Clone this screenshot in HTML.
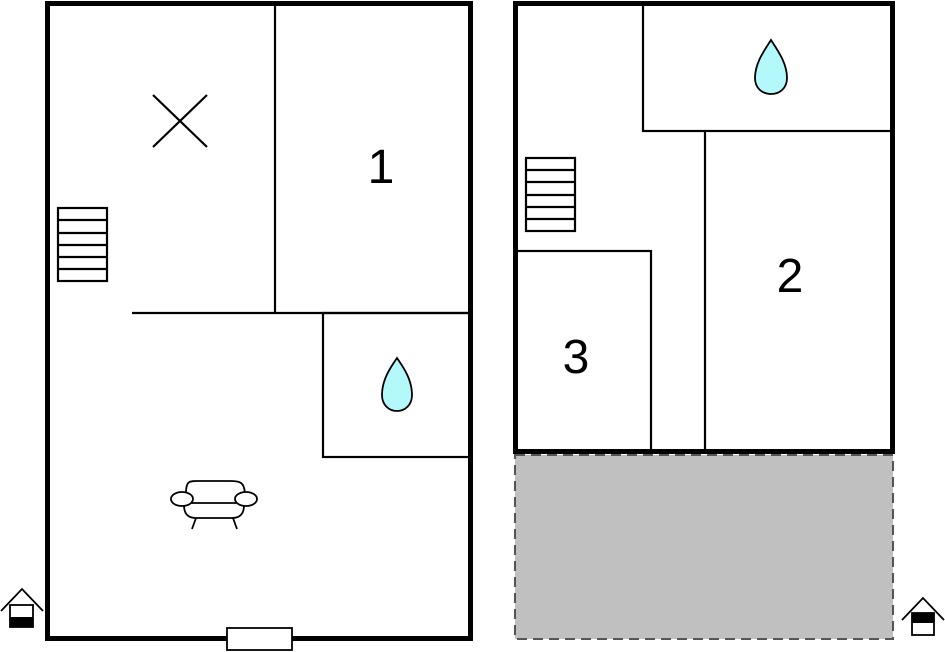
<!DOCTYPE html>
<html><head><style>body{margin:0;background:#fff}svg{display:block}</style></head><body>
<svg width="945" height="652" xmlns="http://www.w3.org/2000/svg" font-family="Liberation Sans, sans-serif">
<rect x="515" y="455" width="378" height="184" fill="#c0c0c0" stroke="#555" stroke-width="2" stroke-dasharray="10,6"/>
<g fill="none" stroke="#000">
<rect x="47.5" y="3.5" width="423" height="635" stroke-width="5"/>
<g stroke-width="2.2">
<line x1="275" y1="3" x2="275" y2="313"/>
<line x1="132" y1="313" x2="471" y2="313"/>
<rect x="323" y="313" width="148" height="144"/>
<line x1="153" y1="95" x2="207" y2="147"/><line x1="207" y1="95" x2="153" y2="147"/>
<rect x="58" y="208" width="49" height="73"/>
<line x1="58" y1="220" x2="107" y2="220"/><line x1="58" y1="233" x2="107" y2="233"/><line x1="58" y1="245" x2="107" y2="245"/><line x1="58" y1="257" x2="107" y2="257"/><line x1="58" y1="269" x2="107" y2="269"/>
</g>
<rect x="515.5" y="3.5" width="377" height="448" stroke-width="5"/>
<g stroke-width="2.2">
<rect x="643" y="3" width="249" height="128"/>
<line x1="705" y1="131" x2="705" y2="452"/>
<rect x="515" y="251" width="136" height="201"/>
<rect x="526" y="158" width="49" height="73"/>
<line x1="526" y1="170" x2="575" y2="170"/><line x1="526" y1="182" x2="575" y2="182"/><line x1="526" y1="195" x2="575" y2="195"/><line x1="526" y1="207" x2="575" y2="207"/><line x1="526" y1="219" x2="575" y2="219"/>
</g>
</g>
<path d="M397,358 C390,368 382,380 382,395 C382,405 389,411 397,411 C405,411 412,405 412,395 C412,380 404,368 397,358Z" fill="#b3f9fb" stroke="#000" stroke-width="1.8"/>
<path d="M771,40 C764,51 755,63 755,78 C755,88 762,94 771,94 C780,94 787,88 787,78 C787,63 778,51 771,40Z" fill="#b3f9fb" stroke="#000" stroke-width="1.8"/>
<g fill="#fff" stroke="#000" stroke-width="1.8">
<path d="M186,493 C186,480 190,481 200,481 L230,481 C240,481 244,482 245,493"/>
<path d="M184,505 C184,514 188,518 196,518 L232,518 C240,518 244,514 244,505"/>
<line x1="190" y1="503" x2="238" y2="503"/>
<ellipse cx="182" cy="499" rx="11" ry="7"/><ellipse cx="246" cy="499" rx="11" ry="7"/>
<line x1="196" y1="518" x2="192" y2="529"/><line x1="233" y1="518" x2="237" y2="529"/>
<rect x="227" y="628" width="65" height="22"/>
</g>
<g stroke="#000" stroke-width="1.8" fill="none">
<polyline points="1,611 22,589 43,611"/><rect x="10" y="605" width="23" height="22" fill="#fff"/>
<polyline points="902,620 923,598 944,620"/><rect x="912" y="613" width="22" height="22" fill="#fff"/>
</g>
<rect x="10" y="617" width="23" height="10" fill="#000"/>
<rect x="912" y="613" width="22" height="10" fill="#000"/>
<g font-size="48" text-anchor="middle">
<text x="381" y="183">1</text><text x="790" y="292">2</text><text x="576" y="373">3</text>
</g>
</svg>
</body></html>
